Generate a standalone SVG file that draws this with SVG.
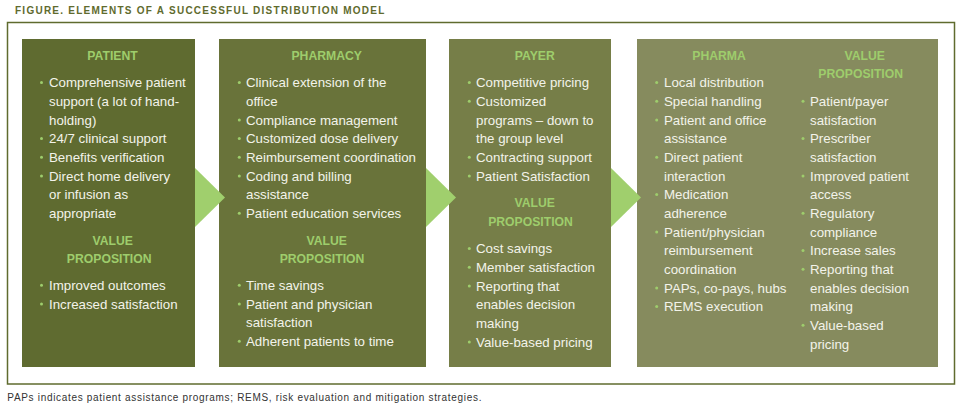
<svg xmlns="http://www.w3.org/2000/svg" width="962" height="407" viewBox="0 0 962 407">
<style>
.t{font-family:"Liberation Sans",Arial,sans-serif;font-size:13.3px;fill:#f3f3ea}
.h{font-family:"Liberation Sans",Arial,sans-serif;font-size:12.2px;font-weight:bold;fill:#9ecd6c;text-anchor:middle}
.b{fill:#9ecd6c}
.arr{fill:#a0cf6d}
.title{font-family:"Liberation Sans",Arial,sans-serif;font-size:10px;font-weight:bold;fill:#5f6b2e;letter-spacing:1.25px}
.note{font-family:"Liberation Sans",Arial,sans-serif;font-size:10px;fill:#333333;letter-spacing:0.68px}
</style>
<rect width="962" height="407" fill="#ffffff"/>
<text class="title" x="15" y="14.3">FIGURE. ELEMENTS OF A SUCCESSFUL DISTRIBUTION MODEL</text>
<rect x="7.5" y="22.5" width="947" height="361.5" fill="none" stroke="#5f6b2e" stroke-width="1.5"/>

<g id="patient">
<rect x="22" y="39" width="173" height="328" fill="#5f6b30"/>
<text class="h" x="112.5" y="60">PATIENT</text>
<circle class="b" cx="41.5" cy="82.6" r="1.5"/><text class="t" x="49" y="87.3">Comprehensive patient</text>
<text class="t" x="49" y="106">support (a lot of hand-</text>
<text class="t" x="49" y="124.7">holding)</text>
<circle class="b" cx="41.5" cy="138.6" r="1.5"/><text class="t" x="49" y="143.3">24/7 clinical support</text>
<circle class="b" cx="41.5" cy="157.3" r="1.5"/><text class="t" x="49" y="162">Benefits verification</text>
<circle class="b" cx="41.5" cy="176" r="1.5"/><text class="t" x="49" y="180.7">Direct home delivery</text>
<text class="t" x="49" y="199.3">or infusion as</text>
<text class="t" x="49" y="218">appropriate</text>
<text class="h" x="112.7" y="245.3">VALUE</text>
<text class="h" x="109.2" y="263.3">PROPOSITION</text>
<circle class="b" cx="41.5" cy="285.3" r="1.5"/><text class="t" x="49" y="290">Improved outcomes</text>
<circle class="b" cx="41.5" cy="304" r="1.5"/><text class="t" x="49" y="308.7">Increased satisfaction</text>
</g>

<g id="pharmacy">
<rect x="219" y="39" width="207" height="328" fill="#69733a"/>
<text class="h" x="326.7" y="60">PHARMACY</text>
<circle class="b" cx="239.3" cy="82.6" r="1.5"/><text class="t" x="246" y="87.3">Clinical extension of the</text>
<text class="t" x="246" y="106">office</text>
<circle class="b" cx="239.3" cy="120" r="1.5"/><text class="t" x="246" y="124.7">Compliance management</text>
<circle class="b" cx="239.3" cy="138.6" r="1.5"/><text class="t" x="246" y="143.3">Customized dose delivery</text>
<circle class="b" cx="239.3" cy="157.3" r="1.5"/><text class="t" x="246" y="162">Reimbursement coordination</text>
<circle class="b" cx="239.3" cy="176" r="1.5"/><text class="t" x="246" y="180.7">Coding and billing</text>
<text class="t" x="246" y="199.3">assistance</text>
<circle class="b" cx="239.3" cy="213.3" r="1.5"/><text class="t" x="246" y="218">Patient education services</text>
<text class="h" x="326.7" y="245.3">VALUE</text>
<text class="h" x="322" y="263.3">PROPOSITION</text>
<circle class="b" cx="239.3" cy="285.3" r="1.5"/><text class="t" x="246" y="290">Time savings</text>
<circle class="b" cx="239.3" cy="304" r="1.5"/><text class="t" x="246" y="308.7">Patient and physician</text>
<text class="t" x="246" y="327.3">satisfaction</text>
<circle class="b" cx="239.3" cy="341.3" r="1.5"/><text class="t" x="246" y="346">Adherent patients to time</text>
</g>

<g id="payer">
<rect x="449" y="39" width="162" height="328" fill="#767e48"/>
<text class="h" x="534.8" y="60">PAYER</text>
<circle class="b" cx="469.3" cy="82.6" r="1.5"/><text class="t" x="476" y="87.3">Competitive pricing</text>
<circle class="b" cx="469.3" cy="101.3" r="1.5"/><text class="t" x="476" y="106">Customized</text>
<text class="t" x="476" y="124.7">programs – down to</text>
<text class="t" x="476" y="143.3">the group level</text>
<circle class="b" cx="469.3" cy="157.3" r="1.5"/><text class="t" x="476" y="162">Contracting support</text>
<circle class="b" cx="469.3" cy="176" r="1.5"/><text class="t" x="476" y="180.7">Patient Satisfaction</text>
<text class="h" x="534.8" y="207.3">VALUE</text>
<text class="h" x="530.5" y="226">PROPOSITION</text>
<circle class="b" cx="469.3" cy="248.6" r="1.5"/><text class="t" x="476" y="253.3">Cost savings</text>
<circle class="b" cx="469.3" cy="267.3" r="1.5"/><text class="t" x="476" y="272">Member satisfaction</text>
<circle class="b" cx="469.3" cy="286" r="1.5"/><text class="t" x="476" y="290.7">Reporting that</text>
<text class="t" x="476" y="309.3">enables decision</text>
<text class="t" x="476" y="328">making</text>
<circle class="b" cx="469.3" cy="342" r="1.5"/><text class="t" x="476" y="346.7">Value-based pricing</text>
</g>

<g id="pharma">
<rect x="637" y="39" width="301" height="328" fill="#868b5e"/>
<text class="h" x="719" y="60">PHARMA</text>
<circle class="b" cx="656.7" cy="82.6" r="1.5"/><text class="t" x="664" y="87.3">Local distribution</text>
<circle class="b" cx="656.7" cy="101.3" r="1.5"/><text class="t" x="664" y="106">Special handling</text>
<circle class="b" cx="656.7" cy="120" r="1.5"/><text class="t" x="664" y="124.7">Patient and office</text>
<text class="t" x="664" y="143.3">assistance</text>
<circle class="b" cx="656.7" cy="157.3" r="1.5"/><text class="t" x="664" y="162">Direct patient</text>
<text class="t" x="664" y="180.7">interaction</text>
<circle class="b" cx="656.7" cy="194.6" r="1.5"/><text class="t" x="664" y="199.3">Medication</text>
<text class="t" x="664" y="218">adherence</text>
<circle class="b" cx="656.7" cy="232" r="1.5"/><text class="t" x="664" y="236.7">Patient/physician</text>
<text class="t" x="664" y="255.3">reimbursement</text>
<text class="t" x="664" y="274">coordination</text>
<circle class="b" cx="656.7" cy="288" r="1.5"/><text class="t" x="664" y="292.7">PAPs, co-pays, hubs</text>
<circle class="b" cx="656.7" cy="306.6" r="1.5"/><text class="t" x="664" y="311.3">REMS execution</text>

<text class="h" x="864.7" y="60">VALUE</text>
<text class="h" x="860.7" y="78.3">PROPOSITION</text>
<circle class="b" cx="803" cy="101.3" r="1.5"/><text class="t" x="810" y="106">Patient/payer</text>
<text class="t" x="810" y="124.7">satisfaction</text>
<circle class="b" cx="803" cy="138.6" r="1.5"/><text class="t" x="810" y="143.3">Prescriber</text>
<text class="t" x="810" y="162">satisfaction</text>
<circle class="b" cx="803" cy="176" r="1.5"/><text class="t" x="810" y="180.7">Improved patient</text>
<text class="t" x="810" y="199.3">access</text>
<circle class="b" cx="803" cy="213.3" r="1.5"/><text class="t" x="810" y="218">Regulatory</text>
<text class="t" x="810" y="236.7">compliance</text>
<circle class="b" cx="803" cy="250.6" r="1.5"/><text class="t" x="810" y="255.3">Increase sales</text>
<circle class="b" cx="803" cy="269.3" r="1.5"/><text class="t" x="810" y="274">Reporting that</text>
<text class="t" x="810" y="292.7">enables decision</text>
<text class="t" x="810" y="311.3">making</text>
<circle class="b" cx="803" cy="325.3" r="1.5"/><text class="t" x="810" y="330">Value-based</text>
<text class="t" x="810" y="348.7">pricing</text>
</g>

<g id="connectors">
<polygon class="arr" points="195,168 225,197.5 195,227"/>
<polygon class="arr" points="426,168 456,197.5 426,227"/>
<polygon class="arr" points="611,168 641,197.5 611,227"/>
</g>

<text class="note" x="7.3" y="401">PAPs indicates patient assistance programs; REMS, risk evaluation and mitigation strategies.</text>
</svg>
